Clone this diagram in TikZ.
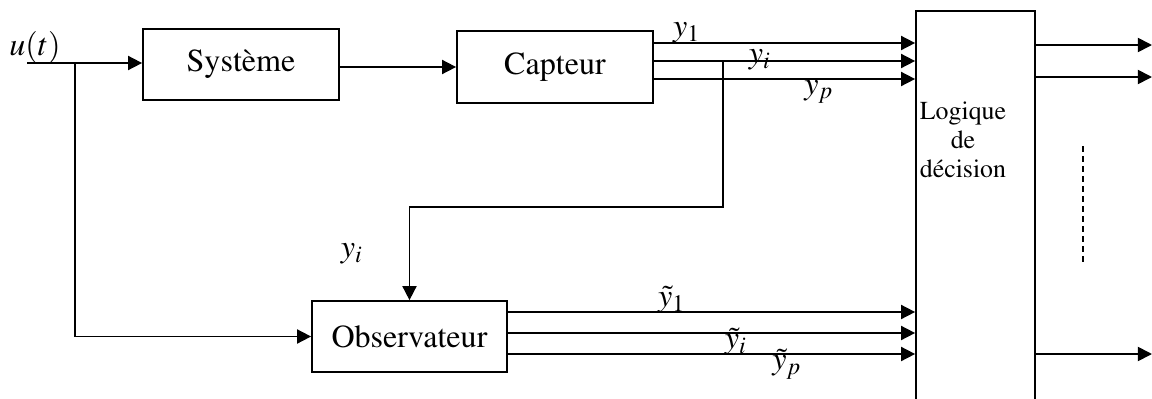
\documentclass[tikz,border=0pt]{standalone}
\usepackage[T1]{fontenc}
\usepackage{mathptmx}
\usetikzlibrary{arrows.meta}

\begin{document}
\begin{tikzpicture}
[x=0.0125cm,y=-0.0125cm,line width=0.6pt,>={Triangle[length=5pt,width=5pt]},
block/.style={draw,rectangle,inner sep=0pt,font=\fontsize{11.4}{13.7}\selectfont},
lbl/.style={inner sep=0pt,font=\fontsize{11.4}{13.7}\selectfont},]

\useasboundingbox (0,0) rectangle (1152,399);

%Blocks
\node (sys) at (241,64.5)[block,minimum width=2.45cm,minimum height=0.8875cm] {Syst\`eme};
\node (cap) at (555,67)[block,minimum width=2.45cm,minimum height=0.9cm] {Capteur};
\node (obs) at (409.5,336.5)[block,minimum width=2.4375cm,minimum height=0.8875cm] {Observateur};
\node (logic) at (975.5,215.5)[block,minimum width=1.4875cm,minimum height=5.1125cm] {};
\node (logictxt) at (963,140)[align=center,inner sep=0pt,font=\fontsize{9.2}{10.3}\selectfont] {Logique\\de\\d\'ecision};

%Input and branch to the observer
\coordinate (in) at (27,63);
\coordinate (br) at (75,63);
\node (u) at (35,47)[lbl] {$u(t)$};
\draw[->] (in) -- (in -| sys.west);
\draw[->] (br) |- (obs.west);
\draw[->] (cap.west -| sys.east) -- (cap.west);

%Measured outputs
\foreach \y in {43,61,79}
  \draw[->] (cap.east |- 0,\y) -- (logic.west |- 0,\y);
\node (y1) at (687,33)[lbl] {$y_1$};
\node (yi) at (760,60)[lbl] {$y_i$};
\node (yp) at (819,92)[lbl] {$y_p$};

%Tap of y_i towards the observer
\coordinate (tap) at (723,61);
\coordinate (bend) at (723,207);
\draw[->] (tap) -- (bend) -| (obs.north);
\node (yiobs) at (352,254)[lbl] {$y_i$};

%Estimated outputs
\foreach \y in {312,333,354}
  \draw[->] (obs.east |- 0,\y) -- (logic.west |- 0,\y);
\node (ey1) at (672,300)[lbl] {$\tilde{y}_1$};
\node (eyi) at (736,342)[lbl] {$\tilde{y}_i$};
\node (eyp) at (787,364)[lbl] {$\tilde{y}_p$};

%Decision outputs
\foreach \y in {45,77,354}
  \draw[->] (logic.east |- 0,\y) -- (1152,\y);
\draw[line width=0.4pt,dash pattern=on 0.075cm off 0.05cm] (1083,146) -- (1083,265);
\end{tikzpicture}
\end{document}
